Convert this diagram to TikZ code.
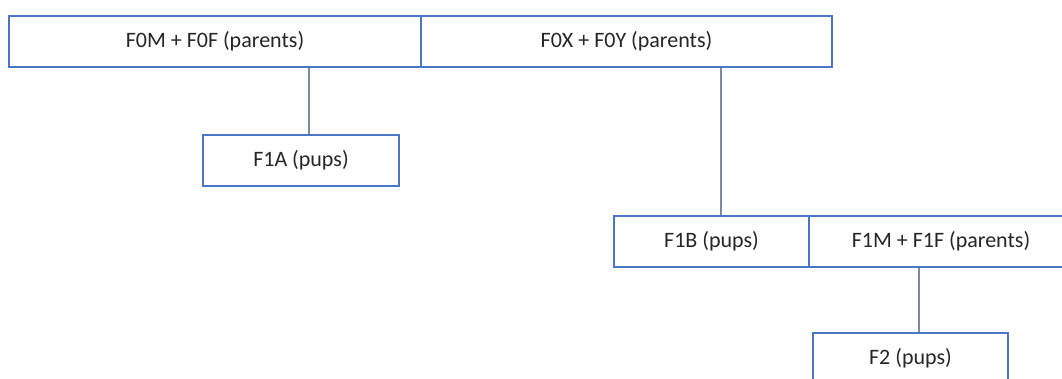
\documentclass[tikz,border=0pt]{standalone}
\usepackage{fontspec}
\setmainfont{Carlito}
\begin{document}
\begin{tikzpicture}[x=1pt,y=-1pt,
  box/.style={draw=boxblue,line width=1.4pt,fill=white,rectangle,inner sep=0pt,
              minimum height=51pt,font=\fontsize{22}{25}\selectfont,text=black!85},
  link/.style={draw=linkgray,line width=1.4pt}]
\definecolor{boxblue}{HTML}{4A76C6}
\definecolor{linkgray}{HTML}{7A8AA6}
\useasboundingbox (0,0) rectangle (1062,379);
\clip (0,0) rectangle (1062,379);
\fill[white] (0,0) rectangle (1062,379);
% family tree boxes
\node[box,minimum width=412pt] (f0mf) at (215,41.5) {F0M + F0F (parents)};
\node[box,minimum width=411pt] (f0xy) at (626.5,41.5) {F0X + F0Y (parents)};
\node[box,minimum width=196pt] (f1a) at (301,160.5) {F1A (pups)};
\node[box,minimum width=195pt] (f1b) at (711.5,241.5) {F1B (pups)};
\node[box,minimum width=264pt] (f1mf) at (941,241.5) {F1M + F1F (parents)};
\node[box,minimum width=195pt] (f2) at (910.5,358.5) {F2 (pups)};
% links from parents to offspring
\draw[link] ([xshift=8pt]f1a.north) -- ([xshift=8pt]f1a.north |- f0mf.south);
\draw[link] ([xshift=9.5pt]f1b.north) -- ([xshift=9.5pt]f1b.north |- f0xy.south);
\draw[link] ([xshift=8.5pt]f2.north) -- ([xshift=8.5pt]f2.north |- f1mf.south);
\end{tikzpicture}
\end{document}
